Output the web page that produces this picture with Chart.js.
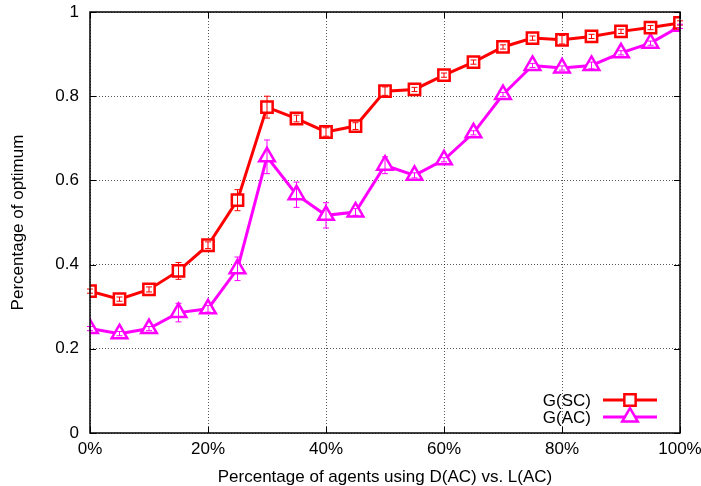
<!DOCTYPE html>
<html>
<head>
<meta charset="utf-8">
<script src="https://cdn.jsdelivr.net/npm/chart.js@4/dist/chart.umd.min.js"></script>
<style>
  body { margin: 0; background: #fff; }
  #wrap { width: 701px; height: 486px; }
</style>
</head>
<body>
<div id="wrap"><canvas id="optChart"></canvas></div>
<script>
// x: percentage of agents using D(AC)
const agentPct = [0, 5, 10, 15, 20, 25, 30, 35, 40, 45, 50, 55, 60, 65, 70, 75, 80, 85, 90, 95, 100];

const gSC = [0.337, 0.318, 0.341, 0.385, 0.446, 0.553, 0.774, 0.747, 0.715, 0.729, 0.812,
             0.816, 0.850, 0.881, 0.917, 0.938, 0.934, 0.942, 0.954, 0.963, 0.974];
const gSCErr = [0.005, 0.005, 0.006, 0.02, 0.008, 0.025, 0.026, 0.008, 0.01, 0.008, 0.01,
                0.005, 0.005, 0.005, 0.005, 0.005, 0.01, 0.005, 0.005, 0.005, 0.005];

const gAC = [0.248, 0.236, 0.248, 0.286, 0.295, 0.390, 0.656, 0.566, 0.517, 0.525, 0.636,
             0.612, 0.649, 0.713, 0.804, 0.873, 0.867, 0.873, 0.903, 0.926, 0.966];
const gACErr = [0.005, 0.005, 0.005, 0.022, 0.008, 0.028, 0.04, 0.03, 0.03, 0.008, 0.02,
                0.006, 0.005, 0.005, 0.005, 0.005, 0.005, 0.008, 0.005, 0.005, 0.005];

const seriesNames = ["G(SC)", "G(AC)"];
const xTitle = "Percentage of agents using D(AC) vs. L(AC)";
const yTitle = "Percentage of optimum";

const font = "'Liberation Sans', Arial, Helvetica, sans-serif";

function toPoints(ys) {
    return agentPct.map((x, i) => ({ x: x, y: ys[i] }));
}

// error bars drawn after the datasets
const errorBars = {
    id: "errorBars",
    afterDatasetsDraw(chart) {
        const ctx = chart.ctx;
        const xs = chart.scales.x, ys = chart.scales.y;
        chart.data.datasets.forEach(ds => {
            ctx.save();
            ctx.strokeStyle = ds.borderColor;
            ctx.lineWidth = 1;
            ds.data.forEach((p, i) => {
                const e = ds.errors[i];
                const px = xs.getPixelForValue(p.x);
                const y1 = ys.getPixelForValue(p.y - e);
                const y2 = ys.getPixelForValue(p.y + e);
                ctx.beginPath();
                ctx.moveTo(px, y1); ctx.lineTo(px, y2);
                ctx.moveTo(px - 3, y1); ctx.lineTo(px + 3, y1);
                ctx.moveTo(px - 3, y2); ctx.lineTo(px + 3, y2);
                ctx.stroke();
            });
            ctx.restore();
        });
    }
};

// frame, inward ticks and gnuplot style key
const frameAndKey = {
    id: "frameAndKey",
    afterDraw(chart) {
        const ctx = chart.ctx;
        const a = chart.chartArea;
        const xs = chart.scales.x, ys = chart.scales.y;
        ctx.save();
        ctx.strokeStyle = "#000";
        ctx.lineWidth = 1.5;
        ctx.strokeRect(a.left, a.top, a.right - a.left, a.bottom - a.top);
        ctx.lineWidth = 1;
        ctx.beginPath();
        ys.ticks.forEach(t => {
            const y = Math.round(ys.getPixelForValue(t.value)) + 0.5;
            ctx.moveTo(a.left, y); ctx.lineTo(a.left + 6, y);
            ctx.moveTo(a.right, y); ctx.lineTo(a.right - 6, y);
        });
        xs.ticks.forEach(t => {
            const x = Math.round(xs.getPixelForValue(t.value)) + 0.5;
            ctx.moveTo(x, a.bottom); ctx.lineTo(x, a.bottom - 6);
            ctx.moveTo(x, a.top); ctx.lineTo(x, a.top + 6);
        });
        ctx.stroke();

        // key
        ctx.font = "17px " + font;
        ctx.textAlign = "right";
        ctx.textBaseline = "middle";
        chart.data.datasets.forEach((ds, i) => {
            const y = a.bottom - 33 + i * 17;
            ctx.fillStyle = "#000";
            ctx.fillText(ds.label, a.right - 89, y + 1);
            ctx.strokeStyle = ds.borderColor;
            ctx.lineWidth = ds.borderWidth;
            ctx.beginPath();
            ctx.moveTo(a.right - 77, y); ctx.lineTo(a.right - 23, y);
            ctx.stroke();
            ctx.fillStyle = ds.pointBackgroundColor;
            ctx.lineWidth = ds.pointBorderWidth;
            Chart.helpers.drawPoint(ctx, {
                pointStyle: ds.pointStyle, radius: ds.pointRadius, rotation: 0,
                borderWidth: ds.pointBorderWidth
            }, a.right - 50, y);
        });
        ctx.restore();
    }
};

new Chart(document.getElementById("optChart"), {
    type: "line",
    data: {
        datasets: [
            {
                label: seriesNames[0], data: toPoints(gSC), errors: gSCErr,
                borderColor: "#ff0000", borderWidth: 3,
                pointStyle: "rect", pointRadius: 8, pointBorderWidth: 2.5,
                pointBackgroundColor: "#ffffff", pointBorderColor: "#ff0000"
            },
            {
                label: seriesNames[1], data: toPoints(gAC), errors: gACErr,
                borderColor: "#ff00ff", borderWidth: 3,
                pointStyle: "triangle", pointRadius: 9, pointBorderWidth: 2.5,
                pointBackgroundColor: "#ffffff", pointBorderColor: "#ff00ff"
            }
        ]
    },
    options: {
        responsive: true,
        maintainAspectRatio: false,
        animation: false,
        layout: { padding: { top: 12, right: 21, left: 0, bottom: 0 } },
        plugins: { legend: { display: false }, tooltip: { enabled: false } },
        elements: { line: { tension: 0 } },
        scales: {
            x: {
                type: "linear", min: 0, max: 100,
                afterFit: s => { s.height = 53; s.paddingLeft = 0; s.paddingRight = 0; },
                ticks: {
                    stepSize: 20, padding: 6, color: "#000",
                    font: { family: font, size: 17 },
                    callback: v => v + "%"
                },
                grid: { color: "rgba(0,0,0,0.65)", lineWidth: 1, drawTicks: false },
                border: { display: false, dash: [1, 2] },
                title: {
                    display: true, text: xTitle, color: "#000",
                    font: { family: font, size: 17, lineHeight: 1 },
                    padding: { top: 0, bottom: 0 }
                }
            },
            y: {
                min: 0, max: 1,
                afterFit: s => { s.width = 90; s.paddingTop = 0; s.paddingBottom = 0; },
                ticks: {
                    stepSize: 0.2, padding: 11, color: "#000",
                    font: { family: font, size: 17 },
                    callback: v => String(parseFloat(v.toFixed(2)))
                },
                grid: { color: "rgba(0,0,0,0.65)", lineWidth: 1, drawTicks: false },
                border: { display: false, dash: [1, 2] },
                title: {
                    display: true, text: yTitle, color: "#000",
                    font: { family: font, size: 17, lineHeight: 1 },
                    padding: { top: 10, bottom: 0 }
                }
            }
        }
    },
    plugins: [errorBars, frameAndKey]
});
</script>
</body>
</html>
